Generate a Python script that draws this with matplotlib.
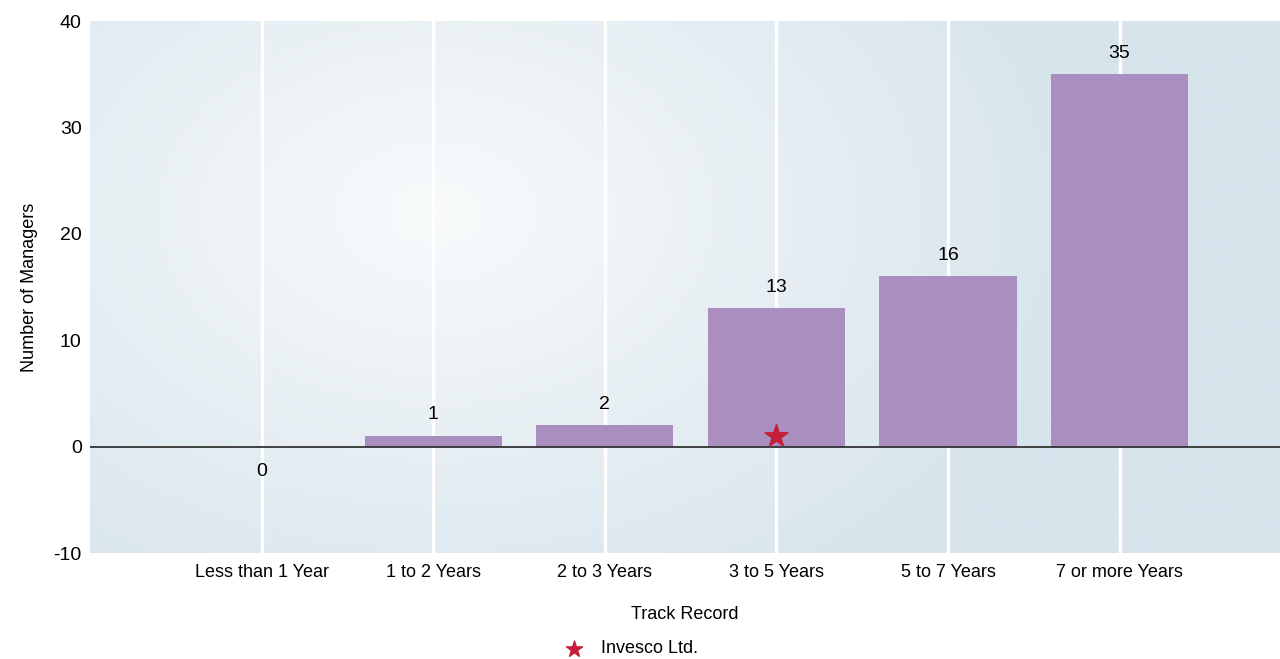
import numpy as np
import matplotlib
matplotlib.use("Agg")
import matplotlib.pyplot as plt
from matplotlib.colors import LinearSegmentedColormap

categories = ["Less than 1 Year", "1 to 2 Years", "2 to 3 Years",
              "3 to 5 Years", "5 to 7 Years", "7 or more Years"]
managers = [0, 1, 2, 13, 16, 35]
invesco_category = "3 to 5 Years"
invesco_value = 1
y_ticks = [-10, 0, 10, 20, 30, 40]

plt.rcParams["font.family"] = ["Liberation Sans", "DejaVu Sans"]
FS = 13

fig = plt.figure(figsize=(12.8, 6.59), dpi=100)
ax = fig.add_axes([90 / 1280, 1 - 553 / 659, 1190 / 1280, 532 / 659])

x = np.arange(len(categories))
ax.set_xlim(-1, 5.935)
ax.set_ylim(-10, 40)

# radial gradient background
gx, gy = np.meshgrid(np.linspace(0, 1, 400), np.linspace(0, 1, 200))
cx, cy = 0.29, 0.64
dist = np.sqrt(((gx - cx) * 1.4) ** 2 + ((gy - cy) * 0.9) ** 2)
dist = np.clip(dist / 0.8, 0, 1) ** 0.9
cmap = LinearSegmentedColormap.from_list("bg", ["#f9fbfc", "#d7e4ec"])
ax.imshow(dist, cmap=cmap, extent=(-1, 5.935, -10, 40), origin="lower",
          aspect="auto", zorder=0, interpolation="bilinear")

for xi in x:
    ax.axvline(xi, color="white", lw=2.4, zorder=1)

ax.bar(x, managers, width=0.8, color="#ab8ec0", zorder=2)
ax.axhline(0, color="#333333", lw=1.3, zorder=3)

for xi, v in zip(x, managers):
    if v == 0:
        ax.annotate(str(v), (xi, v), xytext=(0, -12), textcoords="offset points",
                    ha="center", va="top", fontsize=FS + 1, color="black")
    else:
        ax.annotate(str(v), (xi, v), xytext=(0, 9), textcoords="offset points",
                    ha="center", va="bottom", fontsize=FS + 1, color="black")

star_x = categories.index(invesco_category)
ax.scatter([star_x], [invesco_value], marker="*", s=300, color="#c41e3a",
           zorder=4, label="Invesco Ltd.")

ax.set_xticks(x)
ax.set_xticklabels(categories, fontsize=FS)
ax.set_yticks(y_ticks)
ax.set_yticklabels([str(t) for t in y_ticks], fontsize=FS + 1)
ax.tick_params(length=0, pad=6)
ax.tick_params(axis="x", pad=8)
for s in ax.spines.values():
    s.set_visible(False)

ax.set_xlabel("Track Record", fontsize=FS, labelpad=18)
ax.set_ylabel("Number of Managers", fontsize=FS, labelpad=11)

fig.legend(loc="lower center", bbox_to_anchor=(0.5 - 0.01, -0.022), frameon=False,
           fontsize=FS, handletextpad=0.5, markerscale=0.7)

fig.savefig("out.png", dpi=100)
